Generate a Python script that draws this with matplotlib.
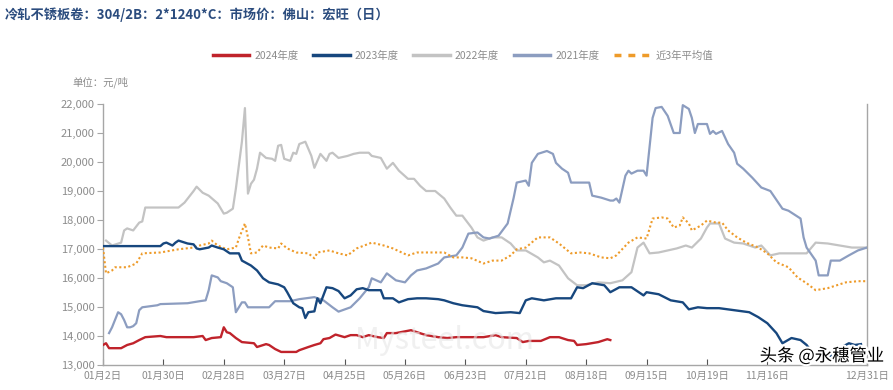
import matplotlib
matplotlib.use("Agg")
import matplotlib.pyplot as plt
from matplotlib.lines import Line2D
import matplotlib.patheffects as pe

plt.rcParams['font.family'] = ['Noto Sans CJK SC', 'DejaVu Sans']

# ---- data (trading-day index, price in 元/吨) ----
tick_pos = [0, 20, 40, 60, 80, 100, 120, 140, 160, 180, 200, 220, 253]
tick_labels = ["01月2日", "01月30日", "02月28日", "03月27日", "04月25日", "05月26日",
               "06月23日", "07月21日", "08月18日", "09月15日", "10月19日", "11月16日", "12月31日"]

x2024 = [0, 1, 2, 6, 8, 10, 12, 14, 19, 21, 30, 33, 34, 36, 39, 40, 41, 42, 44, 46, 50, 51, 54, 55,
         57, 59, 64, 65, 68, 70, 72, 73, 75, 77, 80, 82, 84, 86, 88, 91, 93, 94, 97, 102, 104, 107,
         111, 114, 117, 122, 126, 130, 132, 137, 139, 141, 145, 148, 151, 154, 156, 157, 160, 164, 167, 168]
y2024 = [13690, 13750, 13580, 13580, 13690, 13750, 13860, 13960, 14000, 13960, 13960, 14000, 13860,
         13930, 13960, 14300, 14130, 14100, 13930, 13790, 13750, 13620, 13720, 13690, 13550, 13450,
         13450, 13510, 13620, 13690, 13750, 13890, 13930, 14050, 13960, 14030, 14030, 13960, 14030,
         13960, 13930, 14100, 14100, 14200, 14130, 14030, 13960, 13930, 13960, 13960, 13960, 14030,
         13960, 13930, 13790, 13830, 13830, 13960, 13960, 13860, 13830, 13690, 13720, 13790, 13890, 13860]

x2023 = [0, 19, 20, 21, 23, 24, 25, 28, 30, 31, 32, 35, 36, 38, 40, 42, 45, 46, 49, 51, 53, 55, 58, 60,
         61, 63, 65, 66, 67, 68, 70, 71, 72, 74, 76, 78, 80, 82, 84, 86, 88, 92, 93, 96, 98, 101, 104,
         107, 111, 113, 116, 119, 124, 126, 130, 135, 138, 140, 142, 146, 150, 155, 157, 159, 162, 166,
         168, 171, 175, 179, 180, 184, 188, 192, 194, 197, 200, 204, 209, 214, 217, 220, 223, 225, 228,
         231, 233, 235, 238, 242, 244, 247, 249, 251]
y2023 = [17100, 17100, 17190, 17220, 17120, 17220, 17290, 17190, 17160, 17020, 16990, 17050, 17120,
         17050, 16990, 16850, 16850, 16600, 16430, 16260, 15990, 15850, 15780, 15680, 15510, 15130,
         14990, 14960, 14620, 14820, 14850, 15300, 15130, 15680, 15650, 15550, 15300, 15400, 15610,
         15650, 15580, 15580, 15300, 15300, 15160, 15270, 15300, 15300, 15270, 15230, 15130, 15060,
         14990, 14860, 14790, 14820, 14790, 15230, 15300, 15230, 15300, 15300, 15680, 15650, 15820,
         15750, 15510, 15680, 15680, 15400, 15510, 15440, 15230, 15160, 14920, 14990, 14960, 14960,
         14890, 14820, 14650, 14440, 14100, 13750, 13930, 13860, 13690, 13410, 13280, 13340, 13580,
         13750, 13690, 13720]

x2022 = [1, 3, 6, 7, 8, 10, 12, 13, 14, 25, 27, 30, 31, 33, 35, 38, 40, 41, 43, 44, 46, 47, 48, 49,
         50, 51, 52, 54, 56, 57, 58, 59, 60, 62, 63, 64, 65, 67, 69, 70, 72, 74, 75, 76, 78, 81, 83,
         85, 88, 89, 92, 94, 96, 98, 101, 103, 105, 107, 110, 113, 115, 117, 119, 122, 124, 126, 129,
         132, 135, 137, 140, 144, 146, 148, 151, 154, 157, 160, 164, 168, 172, 175, 177, 179, 181, 184,
         187, 190, 193, 195, 198, 200, 201, 204, 206, 209, 212, 216, 218, 221, 224, 228, 233, 236, 240,
         244, 248, 253]
y2022 = [17290, 17120, 17220, 17640, 17710, 17640, 17910, 17950, 18430, 18430, 18600, 19000, 19150,
         18940, 18840, 18570, 18220, 18250, 18390, 19080, 20700, 21860, 18910, 19250, 19390, 19770,
         20320, 20140, 20110, 20040, 20560, 20590, 20110, 20040, 20320, 20280, 20620, 20700, 20210,
         19800, 20280, 20040, 20280, 20320, 20140, 20210, 20280, 20320, 20320, 20210, 20140, 19770,
         19970, 19700, 19420, 19420, 19180, 19000, 19000, 18740, 18430, 18150, 18150, 17740, 17400,
         17290, 17400, 17400, 17190, 16950, 16950, 16710, 16540, 16600, 16430, 15990, 15750, 15750,
         15850, 15820, 15920, 16200, 17050, 17220, 16850, 16880, 16950, 17020, 17120, 17050, 17360,
         17740, 17880, 17880, 17360, 17220, 17190, 17050, 17120, 16780, 16850, 16850, 16850, 17220,
         17190, 17120, 17050, 17050]

x2021 = [2, 3, 5, 6, 7, 8, 9, 10, 11, 12, 13, 18, 19, 28, 32, 34, 35, 36, 38, 39, 41, 43, 44, 46, 47,
         48, 55, 57, 62, 65, 70, 73, 76, 78, 82, 85, 88, 89, 92, 94, 97, 100, 102, 104, 107, 111, 113,
         117, 119, 121, 124, 126, 128, 131, 134, 136, 137, 140, 141, 142, 144, 147, 149, 150, 152, 154,
         155, 161, 162, 165, 168, 169, 170, 171, 173, 174, 175, 177, 179, 180, 182, 183, 185, 187, 189,
         191, 192, 194, 195, 196, 197, 200, 201, 202, 203, 205, 207, 209, 210, 212, 215, 218, 221, 225,
         227, 231, 232, 233, 236, 237, 240, 241, 244, 247, 250, 253]
y2021 = [14100, 14300, 14820, 14750, 14550, 14300, 14300, 14340, 14440, 14890, 14990, 15060, 15100,
         15130, 15200, 15230, 15580, 16090, 16020, 15890, 15820, 15680, 14820, 15160, 15160, 14990,
         14990, 15200, 15200, 15270, 15340, 15230, 14990, 14840, 14990, 15300, 15680, 15990, 15850,
         16160, 15920, 15850, 16090, 16260, 16330, 16500, 16710, 16780, 17050, 17530, 17570, 17400,
         17360, 17460, 17880, 18770, 19290, 19360, 19180, 19970, 20280, 20380, 20280, 19970, 19770,
         19630, 19290, 19290, 18840, 18770, 18670, 18670, 18740, 18600, 19530, 19700, 19600, 19700,
         19700, 19530, 21520, 21860, 21900, 21590, 21000, 21000, 21960, 21830, 21520, 21000, 21310,
         21310, 20970, 21070, 20970, 21070, 20620, 20320, 19940, 19770, 19460, 19120, 19000, 18390,
         18320, 18050, 17400, 17050, 16600, 16090, 16090, 16600, 16600, 16780, 16950, 17050]

xavg = [0, 1, 3, 4, 8, 11, 13, 19, 25, 30, 32, 35, 36, 38, 41, 44, 45, 47, 48, 49, 51, 53, 55, 58, 59,
        61, 64, 68, 70, 71, 75, 78, 81, 84, 89, 93, 96, 101, 104, 108, 113, 116, 119, 122, 126, 129,
        132, 135, 137, 140, 144, 148, 151, 155, 158, 161, 165, 168, 170, 174, 177, 180, 182, 185, 187,
        189, 191, 192, 194, 195, 198, 200, 203, 205, 207, 210, 213, 217, 220, 223, 227, 230, 233, 236,
        240, 243, 246, 250, 253]
yavg = [17050, 16160, 16260, 16370, 16370, 16500, 16850, 16880, 16990, 17050, 17120, 17190, 17290,
        17120, 16990, 17050, 17360, 17880, 17400, 16850, 16880, 17120, 17050, 17020, 17190, 17020,
        16880, 16850, 16680, 16880, 16950, 16850, 16780, 17020, 17220, 17120, 17020, 16780, 16880,
        16880, 16880, 16710, 16710, 16680, 16500, 16600, 16600, 16780, 16990, 17050, 17400, 17400,
        17190, 16850, 16880, 16850, 16710, 16680, 16780, 17220, 17400, 17360, 18050, 18090, 18050,
        17740, 17810, 18090, 17880, 17640, 17810, 17980, 17910, 17910, 17640, 17400, 17220, 17050,
        16850, 16540, 16370, 16020, 15820, 15580, 15650, 15750, 15850, 15890, 15890]

c2024 = "#C0232B"
c2023 = "#17477E"
c2022 = "#C3C3C3"
c2021 = "#8C9DC0"
cavg = "#EE9B2A"
txt_gray = "#8C8C8C"

fig = plt.figure(figsize=(8.93, 3.90), dpi=100)
ax = fig.add_axes([103 / 893, 1 - 365 / 390, (867 - 103) / 893, (365 - 104) / 390])

ax.plot(x2022, y2022, color=c2022, lw=1.6, zorder=2)
ax.plot(x2021, y2021, color=c2021, lw=1.6, zorder=3)
ax.plot(xavg, yavg, color=cavg, lw=1.5, ls=(0, (1, 1.2)), zorder=4)
ax.plot(x2023, y2023, color=c2023, lw=1.7, zorder=5)
ax.plot(x2024, y2024, color=c2024, lw=1.7, zorder=6)

ax.set_xlim(0, 253)
ax.set_ylim(13000, 22000)
ax.set_yticks(range(13000, 22001, 1000))
ax.set_yticklabels([f"{v:,}" for v in range(13000, 22001, 1000)])
ax.set_xticks(tick_pos)
ax.set_xticklabels(tick_labels)

for s in ['left', 'bottom', 'right']:
    ax.spines[s].set_color("#A6A6A6")
    ax.spines[s].set_linewidth(1.0)
ax.spines['top'].set_visible(False)
ax.tick_params(axis='y', direction='out', length=4, color="#A6A6A6", labelcolor=txt_gray,
               labelsize=8, pad=2)
ax.tick_params(axis='x', direction='in', length=4, color="#555555", labelcolor=txt_gray,
               labelsize=7.5, pad=4)

fig.text(5 / 893, 1 - 15 / 390, "冷轧不锈板卷：304/2B：2*1240*C：市场价：佛山：宏旺（日）",
         color="#2B4C7E", fontsize=9.5, fontweight='bold', va='center', ha='left')
fig.text(72 / 893, 1 - 82 / 390, "单位：元/吨", color=txt_gray, fontsize=7.5, va='center', ha='left')

handles = [Line2D([], [], color=c2024, lw=2.5),
           Line2D([], [], color=c2023, lw=2.5),
           Line2D([], [], color=c2022, lw=2.5),
           Line2D([], [], color=c2021, lw=2.5),
           Line2D([], [], color=cavg, lw=2.5, ls=(0, (2, 2)))]
labels = ["2024年度", "2023年度", "2022年度", "2021年度", "近3年平均值"]
fig.legend(handles, labels, loc='center', bbox_to_anchor=(463 / 893, 1 - 56 / 390), ncol=5,
           frameon=False, fontsize=7.5, labelcolor=txt_gray, handlelength=3.5,
           handletextpad=0.5, columnspacing=1.4)

# watermarks
fig.text(445 / 893, 1 - 340 / 390, "Mysteel.com", color="#E6E6E6", fontsize=22, alpha=0.6,
         ha='center', va='center', zorder=0)
fig.text(822 / 893, 1 - 356 / 390, "头条 @永穗管业", color="black", fontsize=12.5,
         ha='center', va='center',
         path_effects=[pe.withStroke(linewidth=3, foreground="white")])

fig.savefig("out.png", dpi=100)
